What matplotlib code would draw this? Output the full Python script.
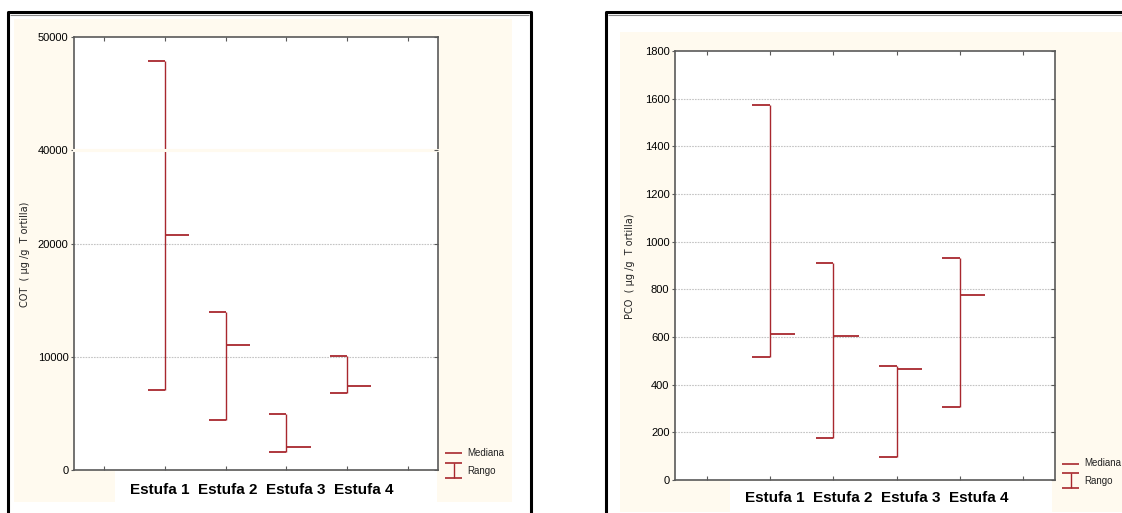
import numpy as np
import matplotlib.pyplot as plt
from matplotlib.lines import Line2D
from matplotlib.patches import Rectangle

# datos (mediana y rango por estufa)
estufas = ['Estufa 1', 'Estufa 2', 'Estufa 3', 'Estufa 4']
pos = np.array([1, 2, 3, 4])

cot_min = [7100, 4400, 1600, 6800]
cot_max = [47900, 14000, 4950, 10100]
cot_med = [20800, 11050, 2050, 7450]

pco_min = [516, 178, 98, 308]
pco_max = [1575, 910, 478, 930]
pco_med = [613, 606, 466, 776]

cot_ticks = [0, 10000, 20000, 40000, 50000]
cot_grid = [10000, 20000]
pco_ticks = list(range(0, 1801, 200))
pco_grid = list(range(200, 1601, 200))

W, H = 1122, 513
RED = '#a8282e'
CREAM = '#fffaef'
GRIDC = '#c4c4c4'
SPINE = '#5a5a5a'
NARROW = ['Liberation Sans Narrow', 'Liberation Sans', 'DejaVu Sans']

# eje cortado para COT
B_LO, B_HI = 28300, 40000


def fwd(y):
    y = np.asarray(y, dtype=float)
    return np.where(y <= B_LO, y, np.where(y >= B_HI, y - (B_HI - B_LO), B_LO))


def inv(v):
    v = np.asarray(v, dtype=float)
    return np.where(v <= B_LO, v, v + (B_HI - B_LO))


def fx(x):
    return x / W


def fy(y):
    return 1 - y / H


def rect(x0, y0, x1, y1, color, z=0):
    fig.add_artist(Rectangle((fx(x0), fy(y1)), fx(x1) - fx(x0), fy(y0) - fy(y1),
                             transform=fig.transFigure, facecolor=color,
                             edgecolor='none', zorder=z))


def fline(xs, ys, color='black', lw=1.0, z=1):
    fig.add_artist(Line2D([fx(x) for x in xs], [fy(y) for y in ys],
                          transform=fig.transFigure, color=color, lw=lw, zorder=z,
                          solid_capstyle='butt'))


def draw_panel(ax, vmin, vmax, vmed, ticks, grid, broken=False):
    ax.vlines(pos, vmin, vmax, color=RED, lw=1.0, zorder=3)
    ax.hlines(vmax, pos - 0.28, pos, color=RED, lw=1.3, zorder=3)
    ax.hlines(vmin, pos - 0.28, pos, color=RED, lw=1.3, zorder=3)
    ax.hlines(vmed, pos, pos + 0.4, color=RED, lw=1.3, zorder=3)
    for g in grid:
        ax.axhline(g, color=GRIDC, lw=0.8, ls=(0, (1.5, 1)), zorder=1)
    ax.set_xlim(-0.5, 5.5)
    ax.set_xticks(range(6))
    ax.set_xticklabels([])
    ax.set_yticks(ticks)
    ax.set_yticklabels([str(t) for t in ticks], fontfamily=NARROW, fontsize=8)
    ax.tick_params(axis='x', direction='in', length=3, color=SPINE, top=True, width=0.8)
    ax.tick_params(axis='y', direction='out', length=2, color=SPINE, pad=2, width=0.8)
    # marcas interiores en el lado derecho
    tw = ax.twinx()
    if broken:
        tw.set_yscale('function', functions=(fwd, inv))
    tw.set_ylim(ax.get_ylim())
    tw.set_yticks(ticks)
    tw.set_yticklabels([])
    tw.tick_params(direction='in', length=3, color=SPINE, width=0.8)
    for s in tw.spines.values():
        s.set_visible(False)
    for s in ax.spines.values():
        s.set_color(SPINE)
        s.set_linewidth(1.2)
    ax.set_facecolor('white')


fig = plt.figure(figsize=(W / 100, H / 100), dpi=100)
fig.patch.set_facecolor('white')

# fondos crema y recuadros blancos de las etiquetas
rect(14, 19, 512, 502, CREAM)
rect(115, 471, 437, 506, 'white', 0.5)
rect(620, 32, 1122, 512, CREAM)
rect(730, 481, 1052, 513, 'white', 0.5)

# marcos negros
fline([8, 8, 531, 531], [513, 12, 12, 513], 'black', 2.2, 5)
fline([10, 529], [15, 15], '#888888', 0.8, 5)
fline([606, 606, 1122], [513, 12, 12], 'black', 2.2, 5)
fline([608, 1122], [15, 15], '#888888', 0.8, 5)

# panel COT
ax1 = fig.add_axes([fx(74), fy(470), fx(438) - fx(74), fy(37) - fy(470)])
ax1.set_yscale('function', functions=(fwd, inv))
ax1.set_ylim(0, 50000)
draw_panel(ax1, cot_min, cot_max, cot_med, cot_ticks, cot_grid, broken=True)
ax1.axhline(B_HI, color=CREAM, lw=2.2, zorder=4, clip_on=False)

# panel PCO
ax3 = fig.add_axes([fx(675), fy(480), fx(1055) - fx(675), fy(51) - fy(480)])
ax3.set_ylim(0, 1800)
draw_panel(ax3, pco_min, pco_max, pco_med, pco_ticks, pco_grid)

# etiquetas de eje
fig.text(fx(25), fy(254), 'COT  ( µg /g  T ortilla)', rotation=90, ha='center', va='center',
         fontsize=7, color='#222222')
fig.text(fx(630), fy(266), 'PCO  ( µg /g  T ortilla)', rotation=90, ha='center', va='center',
         fontsize=7, color='#222222')

xlab = '  '.join(estufas)
fig.text(fx(262), fy(490), xlab, ha='center', va='center', fontsize=11,
         fontweight='bold', fontfamily='Liberation Sans', zorder=6)
fig.text(fx(877), fy(498), xlab, ha='center', va='center', fontsize=11,
         fontweight='bold', fontfamily='Liberation Sans', zorder=6)


# leyendas
def legend(x0, y_med, y_r0, y_r1, ty_med, ty_r):
    fline([x0, x0 + 17], [y_med, y_med], RED, 1.2, 6)
    fline([x0, x0 + 17], [y_r0, y_r0], RED, 1.2, 6)
    fline([x0, x0 + 17], [y_r1, y_r1], RED, 1.2, 6)
    fline([x0 + 8.5, x0 + 8.5], [y_r0, y_r1], RED, 1.0, 6)
    fig.text(fx(x0 + 22), fy(ty_med), 'Mediana', fontsize=7, fontfamily=NARROW,
             va='center', color='#222222')
    fig.text(fx(x0 + 22), fy(ty_r), 'Rango', fontsize=7, fontfamily=NARROW,
             va='center', color='#222222')


legend(445, 453, 463, 478, 453, 471)
legend(1062, 464, 473, 488, 463, 481)

fig.savefig('out.png', dpi=100)
